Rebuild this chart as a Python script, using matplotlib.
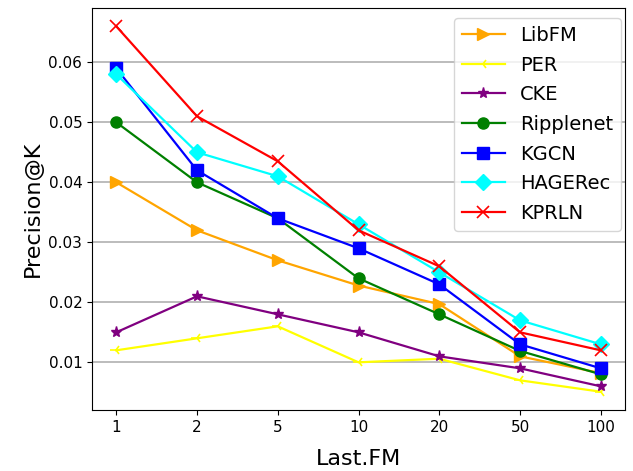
import matplotlib
matplotlib.use("Agg")
import matplotlib.pyplot as plt

categories = ["1", "2", "5", "10", "20", "50", "100"]
libfm = [0.040, 0.032, 0.027, 0.0228, 0.0197, 0.011, 0.0082]
per = [0.012, 0.014, 0.016, 0.010, 0.0106, 0.007, 0.0051]
cke = [0.015, 0.021, 0.018, 0.015, 0.011, 0.009, 0.006]
ripplenet = [0.050, 0.040, 0.034, 0.024, 0.018, 0.0119, 0.008]
kgcn = [0.059, 0.042, 0.034, 0.029, 0.023, 0.013, 0.009]
hagerec = [0.058, 0.045, 0.041, 0.033, 0.025, 0.017, 0.013]
kprln = [0.066, 0.051, 0.0435, 0.032, 0.026, 0.015, 0.012]

series = [
    ("LibFM", libfm, "orange", ">"),
    ("PER", per, "yellow", "3"),
    ("CKE", cke, "purple", "*"),
    ("Ripplenet", ripplenet, "green", "o"),
    ("KGCN", kgcn, "blue", "s"),
    ("HAGERec", hagerec, "cyan", "D"),
    ("KPRLN", kprln, "red", "x"),
]

fig = plt.figure(figsize=(6.33, 4.71), dpi=100)
ax = fig.add_axes([92/633, 1-410/471, (625-92)/633, (410-8)/471])
x = list(range(len(categories)))
for name, vals, c, m in series:
    ms = 8
    if m == "x":
        ms = 9
    ax.plot(x, vals, color=c, marker=m, markersize=ms, linewidth=1.6, label=name,
            markeredgewidth=1.2 if m in ("x", "3") else 1.0)
ax.set_xticks(x)
ax.set_xticklabels(categories, fontsize=11)
ax.tick_params(axis='y', labelsize=11)
ax.set_yticks([0.01, 0.02, 0.03, 0.04, 0.05, 0.06])
ax.set_yticklabels(["0.01", "0.02", "0.03", "0.04", "0.05", "0.06"])
ax.yaxis.grid(True, color="#b0b0b0", linewidth=1.2)
ax.set_axisbelow(True)
ax.set_xlabel("Last.FM", fontsize=16, labelpad=10)
ax.set_ylabel("Precision@K", fontsize=16)
ax.legend(loc="upper right", fontsize=14, handlelength=2.2, borderaxespad=0,
          bbox_to_anchor=(0.9925, 0.975), labelspacing=0.55)
fig.savefig("out.png", dpi=100)
